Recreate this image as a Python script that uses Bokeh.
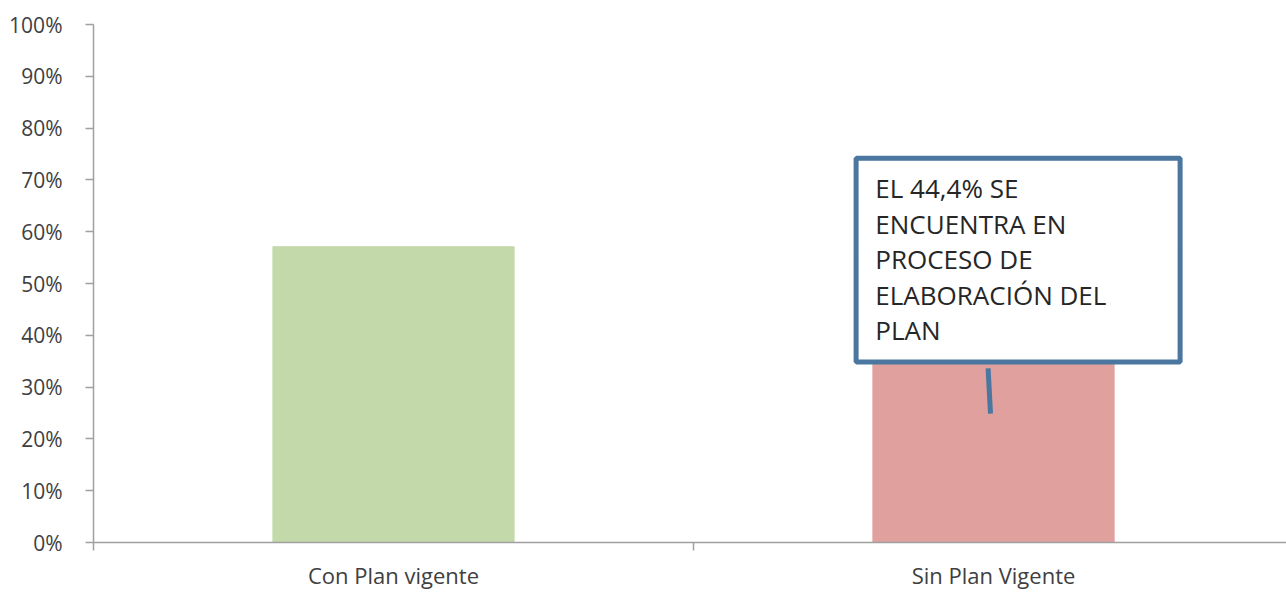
from bokeh.plotting import figure
from bokeh.models import FixedTicker, Range1d, ColumnDataSource
from bokeh.embed import file_html
from bokeh.resources import INLINE
from bokeh.core.properties import value

# ---- data ----
categories = ["Con Plan vigente", "Sin Plan Vigente"]
values = [57.1, 42.9]
bar_colors = ["#C3D9A9", "#E0A09E"]
y_ticks = [0, 10, 20, 30, 40, 50, 60, 70, 80, 90, 100]
y_tick_labels = ["0%", "10%", "20%", "30%", "40%", "50%", "60%", "70%", "80%", "90%", "100%"]
callout_lines = ["EL 44,4% SE", "ENCUENTRA EN", "PROCESO DE", "ELABORACIÓN DEL", "PLAN"]

FONT = "Open Sans"
AXIS_COLOR = "#A0A0A0"
LABEL_COLOR = "#404040"
CALLOUT_COLOR = "#4A76A0"

xs = [i + 0.5 for i in range(len(categories))]
src = ColumnDataSource(dict(x=xs, top=values, color=bar_colors, cat=categories))

# frame is 1193 px wide; one category slot spans 600 px, the right end runs past the edge
p = figure(width=1286, height=594, x_range=Range1d(0, 1193 / 600), y_range=Range1d(0, 100),
           output_backend="svg", toolbar_location=None,
           min_border_left=93, min_border_right=0, min_border_top=24, min_border_bottom=52)
p.outline_line_color = None
p.grid.grid_line_color = None
p.background_fill_color = "white"

p.vbar(x="x", top="top", width=0.402, color="color", source=src)

# callout box
p.quad(left=[1.271], right=[1.811], top=[74.2], bottom=[34.85], fill_color="white",
       line_color=CALLOUT_COLOR, line_width=5)
p.segment(x0=[1.491], y0=[33.6], x1=[1.495], y1=[24.9], line_color=CALLOUT_COLOR, line_width=5)
line_step = 6.85
first_baseline = 68.4
p.text(x=[1.303] * len(callout_lines),
       y=[first_baseline - i * line_step for i in range(len(callout_lines))],
       text=callout_lines, text_font=value(FONT),
       text_font_size="26px", text_baseline="alphabetic", text_align="left",
       text_color="#262626")

# y axis
ya = p.yaxis[0]
ya.ticker = FixedTicker(ticks=y_ticks)
ya.major_label_overrides = {t: l for t, l in zip(y_ticks, y_tick_labels)}
ya.axis_line_color = AXIS_COLOR
ya.axis_line_width = 1.5
ya.major_tick_line_color = AXIS_COLOR
ya.major_tick_line_width = 1.5
ya.major_tick_in = 0
ya.major_tick_out = 8
ya.minor_tick_line_color = None
ya.major_label_standoff = 23
ya.major_label_text_font = FONT
ya.major_label_text_font_size = "21px"
ya.major_label_text_color = LABEL_COLOR

# x axis
xa = p.xaxis[0]
xa.ticker = FixedTicker(ticks=xs, minor_ticks=list(range(len(categories) + 1)))
xa.major_label_overrides = {x: c for x, c in zip(xs, categories)}
xa.axis_line_color = AXIS_COLOR
xa.axis_line_width = 1.5
xa.major_tick_line_color = None
xa.major_tick_in = 0
xa.major_tick_out = 0
xa.minor_tick_line_color = AXIS_COLOR
xa.minor_tick_line_width = 1.5
xa.minor_tick_in = 0
xa.minor_tick_out = 8
xa.major_label_standoff = 9
xa.major_label_text_font = FONT
xa.major_label_text_font_size = "22px"
xa.major_label_text_color = LABEL_COLOR

open("out.html", "w").write(file_html(p, INLINE))
